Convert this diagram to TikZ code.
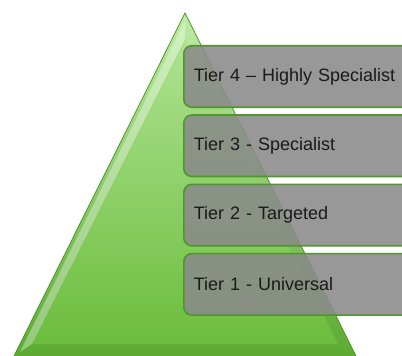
\documentclass[tikz,border=0pt]{standalone}
\usepackage{fontspec}
\setmainfont{Liberation Sans}
\usepackage{tikz}
\usetikzlibrary{positioning}
\definecolor{leafgreen}{RGB}{108, 189, 62}
\definecolor{palegreen}{RGB}{190, 236, 165}
\definecolor{bevelgreen}{RGB}{92, 170, 50}
\definecolor{edgegreen}{RGB}{79, 150, 44}
\definecolor{tiergray}{RGB}{138, 138, 138}

\begin{document}
\begin{tikzpicture}[
        x=1pt, y=1pt,
        node distance=6.2pt,
        tier/.style={draw=edgegreen, line width=1.6pt, rounded corners=8pt, fill=tiergray, fill opacity=0.88, text opacity=1,
            text width=220pt, align=left, inner xsep=10pt, minimum height=61.5pt, font=\fontsize{18}{22}\selectfont, text=black!90}
    ]
        \useasboundingbox (0,0) rectangle (402,356);

        % pyramid with bevelled rim
        \path[top color=palegreen, bottom color=bevelgreen, draw=edgegreen, line width=0.8pt]
            (13,-2) -- (185,343) -- (357,-2) -- cycle;
        \path[top color=palegreen!80!leafgreen, bottom color=leafgreen]
            (32,12) -- (185,317) -- (338,12) -- cycle;
        \path[fill=white, fill opacity=0.35]
            (20,4) -- (185,335) -- (185,317) -- (32,12) -- cycle;

        % tiers
        \node[tier, anchor=west] (t4) at (183,279.5) {Tier 4 -- Highly Specialist};
        \node[tier, below=of t4] (t3) {Tier 3 - Specialist};
        \node[tier, below=of t3] (t2) {Tier 2 - Targeted};
        \node[tier, below=of t2] (t1) {Tier 1 - Universal};
    \end{tikzpicture}
\end{document}
